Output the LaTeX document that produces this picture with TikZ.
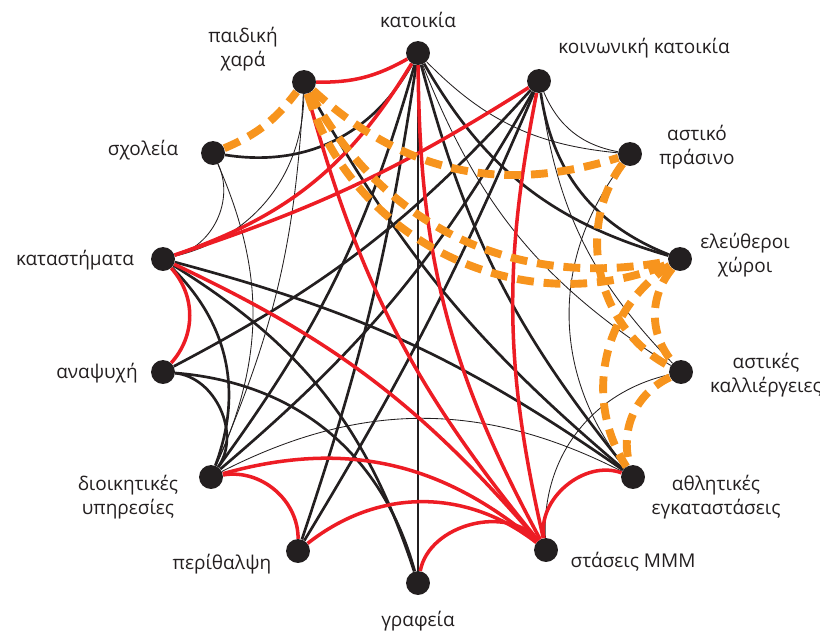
\documentclass[tikz,border=0pt]{standalone}
\usepackage{fontspec}
\setmainfont{Open Sans}
\usetikzlibrary{positioning}

\definecolor{dotblack}{RGB}{35,31,32}
\definecolor{linkred}{RGB}{237,28,36}
\definecolor{linkorange}{RGB}{247,148,29}

\tikzset{
  place/.style={circle, fill=dotblack, inner sep=0pt, minimum size=17pt},
  lbl/.style={font=\fontsize{13.5}{17.5}\selectfont, text=dotblack, align=center, inner sep=0pt},
  strong/.style={draw=dotblack, line width=1.9pt},
  weak/.style={draw=dotblack, line width=0.6pt},
  redlink/.style={draw=linkred, line width=2.5pt},
  greenway/.style={draw=linkorange, line width=5.6pt, dash pattern=on 12pt off 7pt}
}

\begin{document}
\begin{tikzpicture}[x=0.025cm, y=-0.025cm]
  \useasboundingbox (0,0) rectangle (820,634);

  % the fourteen places, clockwise from the top
  \node[place] (home)    at (418,53)  {};
  \node[place] (social)  at (539,81)  {};
  \node[place] (green)   at (630,154) {};
  \node[place] (open)    at (680,259) {};
  \node[place] (farm)    at (681,372) {};
  \node[place] (sport)   at (633,477) {};
  \node[place] (stop)    at (546,550) {};
  \node[place] (office)  at (418,583) {};
  \node[place] (care)    at (298,551) {};
  \node[place] (admin)   at (211,477) {};
  \node[place] (leisure) at (163,372) {};
  \node[place] (shops)   at (163,259) {};
  \node[place] (school)  at (213,153) {};
  \node[place] (play)    at (304,82)  {};

  % labels
  \node[lbl] (homel)    at (418,20)  {κατοικία};
  \node[lbl] (sociall)  at (644,48)  {κοινωνική κατοικία};
  \node[lbl] (greenl)   at (697,147) {αστικό\\πράσινο};
  \node[lbl] (openl)    at (745,255) {ελεύθεροι\\χώροι};
  \node[lbl] (farml)    at (766,375) {αστικές\\καλλιέργειες};
  \node[lbl] (sportl)   at (716,497) {αθλητικές\\εγκαταστάσεις};
  \node[lbl] (stopl)    at (633,562) {στάσεις ΜΜΜ};
  \node[lbl] (officel)  at (418,621) {γραφεία};
  \node[lbl] (carel)    at (222,564) {περίθαλψη};
  \node[lbl] (adminl)   at (128,497) {διοικητικές\\υπηρεσίες};
  \node[lbl] (leisurel) at (97,373)  {αναψυχή};
  \node[lbl] (shopsl)   at (75,260)  {καταστήματα};
  \node[lbl] (schooll)  at (143,150) {σχολεία};
  \node[lbl] (playl)    at (243,49)  {παιδική\\χαρά};

  % thin links (always drawn clockwise, bending inwards)
  \draw[weak] (home) to[bend right=20] (green);
  \draw[weak] (home) to[bend right=18] (farm);
  \draw[weak] (social) to[bend right=28] (green);
  \draw[weak] (social) to[bend right=18] (farm);
  \draw[weak] (green) to[bend right=38] (sport);
  \draw[weak] (farm) to[bend right=40] (stop);
  \draw[weak] (sport) to[bend right=27] (admin);
  \draw[weak] (admin) to[bend right=24] (school);
  \draw[weak] (admin) to[bend right=10] (play);
  \draw[weak] (shops) to[bend right=50] (school);
  \draw[weak] (shops) to[bend right=38] (play);

  % thick black links
  \draw[strong] (school) to[bend right=35] (home);
  \draw[strong] (home) to (office);
  \draw[strong] (home) to[bend right=12] (sport);
  \draw[strong] (home) to[bend right=22] (open);
  \draw[strong] (admin) to[bend right=10] (home);
  \draw[strong] (care) to[bend right=5] (home);
  \draw[strong] (leisure) to[bend right=10] (social);
  \draw[strong] (admin) to[bend right=10] (social);
  \draw[strong] (care) to[bend right=4] (social);
  \draw[strong] (social) to[bend right=30] (open);
  \draw[strong] (play) to[bend right=10] (sport);
  \draw[strong] (admin) to[bend right=33] (shops);
  \draw[strong] (admin) to[bend right=60] (leisure);
  \draw[strong] (sport) to[bend right=10] (shops);
  \draw[strong] (office) to[bend right=35] (leisure);
  \draw[strong] (office) to[bend right=20] (shops);

  % red links
  \draw[redlink] (play) to[bend right=15] (home);
  \draw[redlink] (shops) to[bend right=20] (home);
  \draw[redlink] (shops) to[bend right=7] (social);
  \draw[redlink] (home) to[bend right=14] (stop);
  \draw[redlink] (social) to[bend right=12] (stop);
  \draw[redlink] (play) to[bend right=12] (stop);
  \draw[redlink] (stop) to[bend right=12] (shops);
  \draw[redlink] (leisure) to[bend right=42] (shops);
  \draw[redlink] (care) to[bend right=50] (admin);
  \draw[redlink] (stop) to[bend right=28] (admin);
  \draw[redlink] (stop) to[bend right=38] (care);
  \draw[redlink] (stop) to[bend right=65] (office);
  \draw[redlink] (sport) to[bend right=60] (stop);

  % green network
  \draw[greenway] (school) to[bend right=15] (play);
  \draw[greenway] (play) to[bend right=30] (green);
  \draw[greenway] (play) to[bend right=36] (open);
  \draw[greenway] (play) to[bend right=48] (open);
  \draw[greenway] (green) to[bend right=50] (farm);
  \draw[greenway] (open) to[bend right=40] (farm);
  \draw[greenway] (open) to[bend right=45] (sport);
  \draw[greenway] (farm) to[bend right=40] (sport);
\end{tikzpicture}
\end{document}
